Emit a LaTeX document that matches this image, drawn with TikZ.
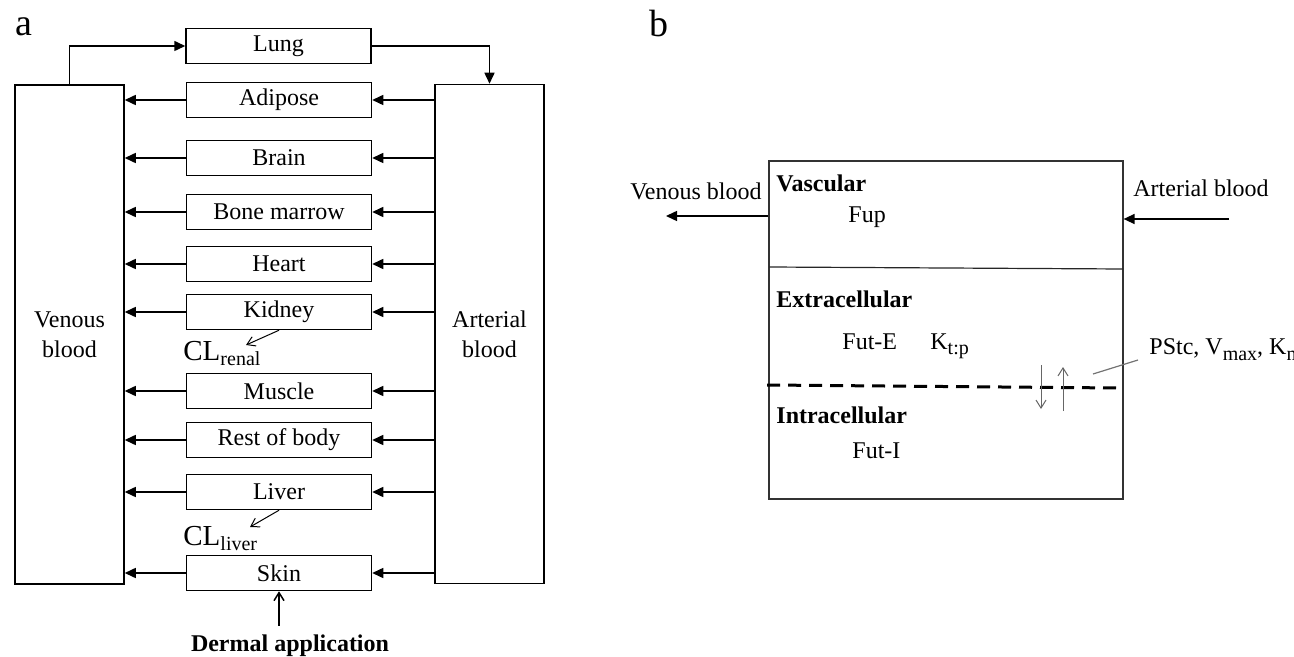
\documentclass[tikz,border=0pt]{standalone}
\usepackage{fontspec}
\setmainfont{Liberation Serif}
\usetikzlibrary{arrows.meta,positioning}

\newcommand{\lowtxt}[2][2.5pt]{\raisebox{-#1}{\fontsize{10}{12}\selectfont #2}}

\tikzset{
  organ/.style={draw, line width=0.75pt, minimum width=92.5pt, minimum height=17.5pt,
    inner sep=0pt, font=\fontsize{12}{15}\selectfont},
  pool/.style={draw, line width=0.75pt, minimum width=54.5pt, minimum height=249.5pt,
    align=center, font=\fontsize{12}{15}\selectfont},
  flow/.style={-{Triangle[length=5.5pt,width=5pt]}, line width=0.75pt},
  thin flow/.style={-{Straight Barb[length=4pt,width=5pt]}, line width=0.5pt},
  txt/.style={inner sep=0pt, font=\fontsize{12}{15}\selectfont},
  head/.style={inner sep=0pt, font=\fontsize{12}{15}\selectfont\bfseries},
  cl/.style={inner sep=0pt, font=\fontsize{14.5}{16}\selectfont},
  panel/.style={inner sep=0pt, font=\fontsize{19}{22}\selectfont},
  membrane/.style={line width=1.5pt, dash pattern=on 6.5pt off 4pt},
}

\begin{document}
\begin{tikzpicture}[x=0.5pt,y=-0.5pt]
\useasboundingbox (0,0) rectangle (1294,657);

% panel a: whole-body model
\node[panel, anchor=base west] (lbla) at (15,36) {a};

\node[pool] (ven) at (69.5,334.5) {Venous\\blood};
\node[pool] (art) at (489.5,334) {Arterial\\blood};

\node[organ] (lung) at (278.5,46) {Lung};
\draw[flow] (ven.north) |- (lung.west);
\draw[flow] (lung.east) -| (art.north);

\foreach \y/\n/\lbl in {100/adipose/Adipose, 158/brain/Brain, 212/marrow/Bone marrow,
    264/heart/Heart, 312/kidney/Kidney, 391/muscle/Muscle, 440/rest/Rest of body,
    492/liver/Liver, 573/skin/Skin}{
  \node[organ] (\n) at (279,\y) {\lbl};
  \draw[flow] (art.west |- \n) -- (\n.east);
  \draw[flow] (\n.west) -- (ven.east |- \n);
}

% clearance
\node[cl, anchor=base west] (clrenal) at (183,360) {CL\lowtxt{renal}};
\coordinate (renaltip) at (246,345);
\draw[thin flow] (kidney.south) -- (renaltip);

\node[cl, anchor=base west] (clliver) at (183,545) {CL\lowtxt{liver}};
\coordinate (livertip) at (250,527);
\draw[thin flow] (liver.south) -- (livertip);

\node[head, anchor=base] (dermal) at (290,651) {Dermal application};
\draw[thin flow, line width=0.75pt, shorten <=4pt] (dermal.north -| skin.south) -- (skin.south);

% panel b: tissue compartment
\node[panel, anchor=base west] (lblb) at (649,37) {b};

\node[draw=black!80, line width=0.6pt, minimum width=177pt, minimum height=169pt,
  inner sep=0pt] (cell) at (946,330) {};
\coordinate (sepL) at (769,267);
\coordinate (sepR) at (1123,269);
\draw[black!85, line width=0.6pt] (sepL) -- (sepR);
\draw[membrane] (767,385) -- (1119,388);

\node[txt, anchor=base east] (venlbl) at (762,200) {Venous blood};
\coordinate (venout) at (666,216);
\draw[flow] (cell.west |- venout) -- (venout);

\node[txt, anchor=base west] (artlbl) at (1133,197) {Arterial blood};
\coordinate (artin) at (1229,219);
\draw[flow] (artin) -- (artin -| cell.east);

\node[head, anchor=base west] (vasc) at (776,192) {Vascular};
\node[txt, anchor=base west] (fup) at (848,223) {Fup};
\node[head, anchor=base west] (extra) at (776,307) {Extracellular};
\node[txt, anchor=base west] (fute) at (842,350) {Fut-E};
\node[txt, anchor=base west] (ktp) at (930,350) {K\lowtxt{t:p}};
\node[head, anchor=base west] (intra) at (776,423) {Intracellular};
\node[txt, anchor=base west] (futi) at (852,458) {Fut-I};

\draw[thin flow, black!60] (1041,365) -- (1041,409);
\draw[thin flow, black!60] (1063,411) -- (1063,367);

\node[txt, anchor=base west] (pstc) at (1149,355) {PStc, V\lowtxt{max}, K\lowtxt{m}};
\coordinate (leadA) at (1093,374);
\coordinate (leadB) at (1138,360);
\draw[black!55, line width=0.6pt] (leadA) -- (leadB);

\end{tikzpicture}
\end{document}
